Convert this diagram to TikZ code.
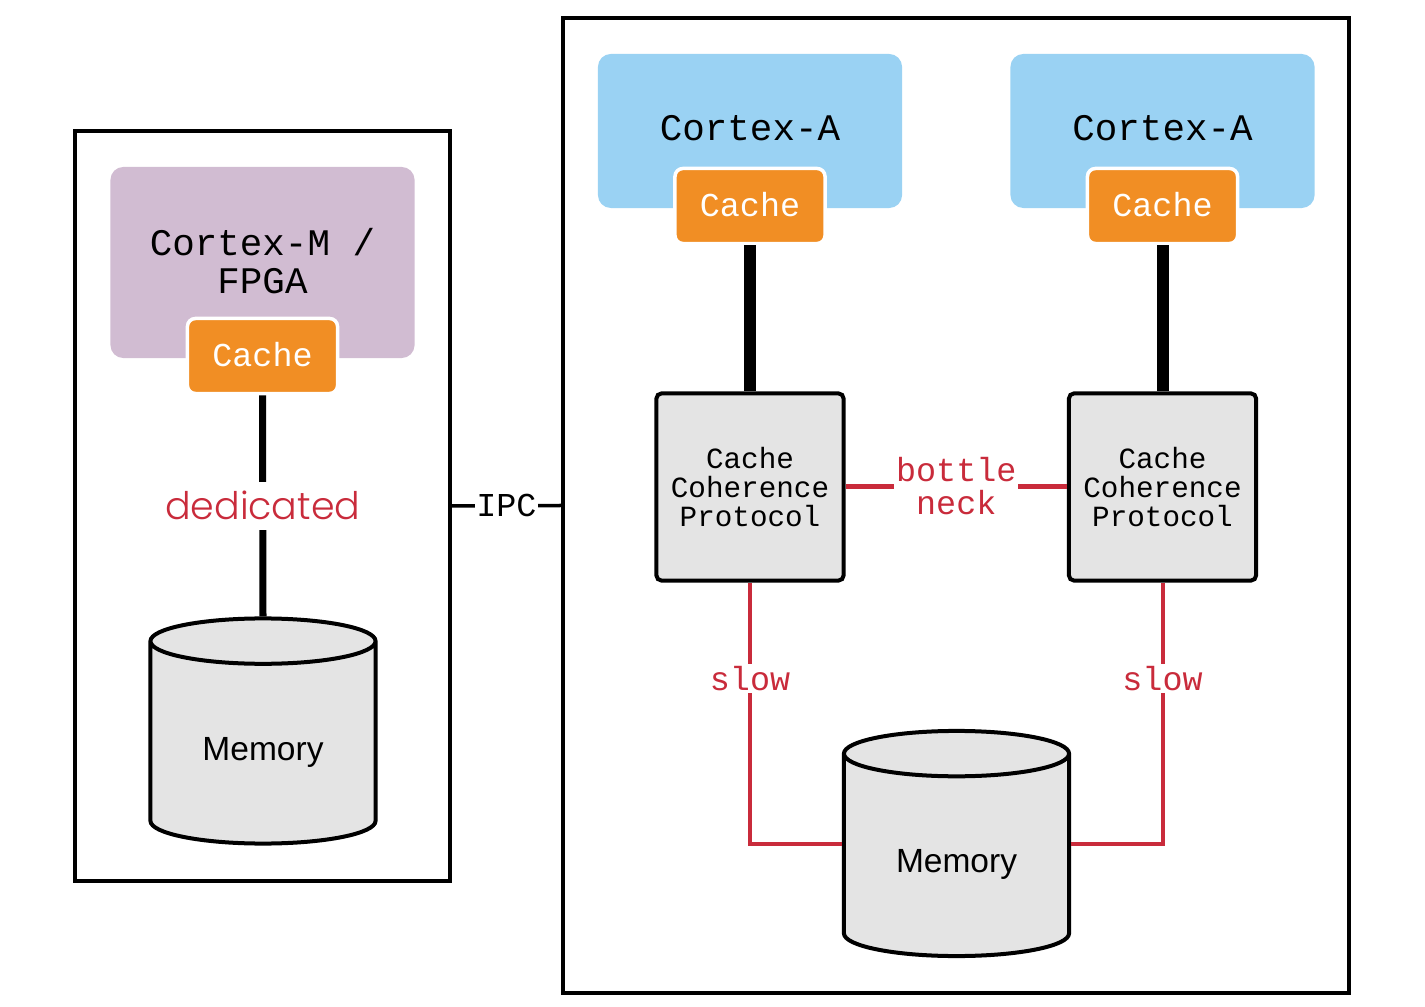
\documentclass[tikz,border=0pt]{standalone}
\usepackage{fontspec}
\setmainfont{Liberation Sans}
\setmonofont{Liberation Mono}
\newfontfamily\dedfont{Poppins Light}
\usetikzlibrary{shapes.geometric}
\definecolor{coreblue}{HTML}{9AD2F3}
\definecolor{corepurple}{HTML}{D1BCD2}
\definecolor{cacheorange}{HTML}{F18E24}
\definecolor{boxgray}{HTML}{E4E4E4}
\definecolor{slowred}{HTML}{C92B3B}
\begin{document}
\begin{tikzpicture}[
		x=0.01cm, y=-0.01cm,
		frame/.style={draw, line width=0.04cm, inner sep=0pt},
		core/.style={rounded corners=0.13cm, minimum width=3.04cm, align=center, font=\fontsize{10.67pt}{10.8pt}\selectfont\ttfamily},
		cachebox/.style={draw=white, line width=0.035cm, fill=cacheorange, rounded corners=0.08cm, minimum width=1.5cm, minimum height=0.75cm, text=white, text depth=0.04cm, font=\fontsize{9.5pt}{10pt}\selectfont\ttfamily},
		proto/.style={draw, line width=0.04cm, fill=boxgray, rounded corners=0.05cm, minimum width=1.87cm, minimum height=1.87cm, inner sep=0pt, align=center, font=\fontsize{8.33pt}{8.25pt}\selectfont\ttfamily},
		memdb/.style={draw, line width=0.04cm, fill=boxgray, cylinder, shape border rotate=90, aspect=0.375, minimum width=2.25cm, minimum height=2.25cm, inner sep=0pt, text height=0.41cm, anchor=shape center, font=\fontsize{9.53pt}{10pt}\selectfont},
		conn/.style={line width=0.12cm},
		slowconn/.style={slowred, line width=0.04cm},
		redtext/.style={fill=white, text=slowred, inner sep=0.02cm, align=center, font=\fontsize{9.5pt}{9.6pt}\selectfont\ttfamily}
		]
		\useasboundingbox (0,0) rectangle (1425,1007);
		
		% Left side
		\node[frame, minimum width=3.75cm, minimum height=7.5cm] (leftBox) at (262.5,506) {};
		\node[core, fill=corepurple, minimum height=1.91cm, text depth=0.04cm] (coreM) at (262.5,262.5) {Cortex-M /\\FPGA};
		\node[cachebox] (cacheM) at (262.5,356) {Cache};
		\node[memdb] (memL) at (263,731) {Memory};
		\draw[line width=0.07cm] (cacheM.south) -- node[redtext, minimum height=0.48cm, font=\fontsize{10.8pt}{11pt}\selectfont\dedfont] (dedicated) {dedicated} (memL.north);
		
		% Right side
		\node[frame, minimum width=7.86cm, minimum height=9.74cm] (rightBox) at (956,505.5) {};
		\node[core, fill=coreblue, minimum height=1.54cm, text depth=0.06cm] (coreA) at (750,131) {Cortex-A};
		\node[core, fill=coreblue, minimum height=1.54cm, text depth=0.06cm] (coreB) at (1162.5,131) {Cortex-A};
		\node[cachebox] (cacheA) at (750,206) {Cache};
		\node[cachebox] (cacheB) at (1162.5,206) {Cache};
		\node[proto] (protoA) at (750,487) {Cache\\Coherence\\Protocol};
		\node[proto] (protoB) at (1162.5,487) {Cache\\Coherence\\Protocol};
		\node[memdb] (memR) at (956.5,843.5) {Memory};
		\draw[conn] (cacheA) -- (protoA);
		\draw[conn] (cacheB) -- (protoB);
		
		% Slow links
		\draw[slowconn, line width=0.05cm] (protoA.east) -- node[redtext, text depth=0.02cm] (bottle) {bottle\\neck} (protoB.west);
		\draw[slowconn] (protoA.south) |- node[redtext, pos=0.184] (slowA) {slow} (memR.shape center -| memR.west);
		\draw[slowconn] (protoB.south) |- node[redtext, pos=0.184] (slowB) {slow} (memR.shape center -| memR.east);
		
		% IPC
		\draw[line width=0.035cm] (leftBox.east) -- node[fill=white, inner sep=0.01cm, font=\fontsize{9.5pt}{10pt}\selectfont\ttfamily] (ipc) {IPC} (rightBox.west);
		
	\end{tikzpicture}
\end{document}
